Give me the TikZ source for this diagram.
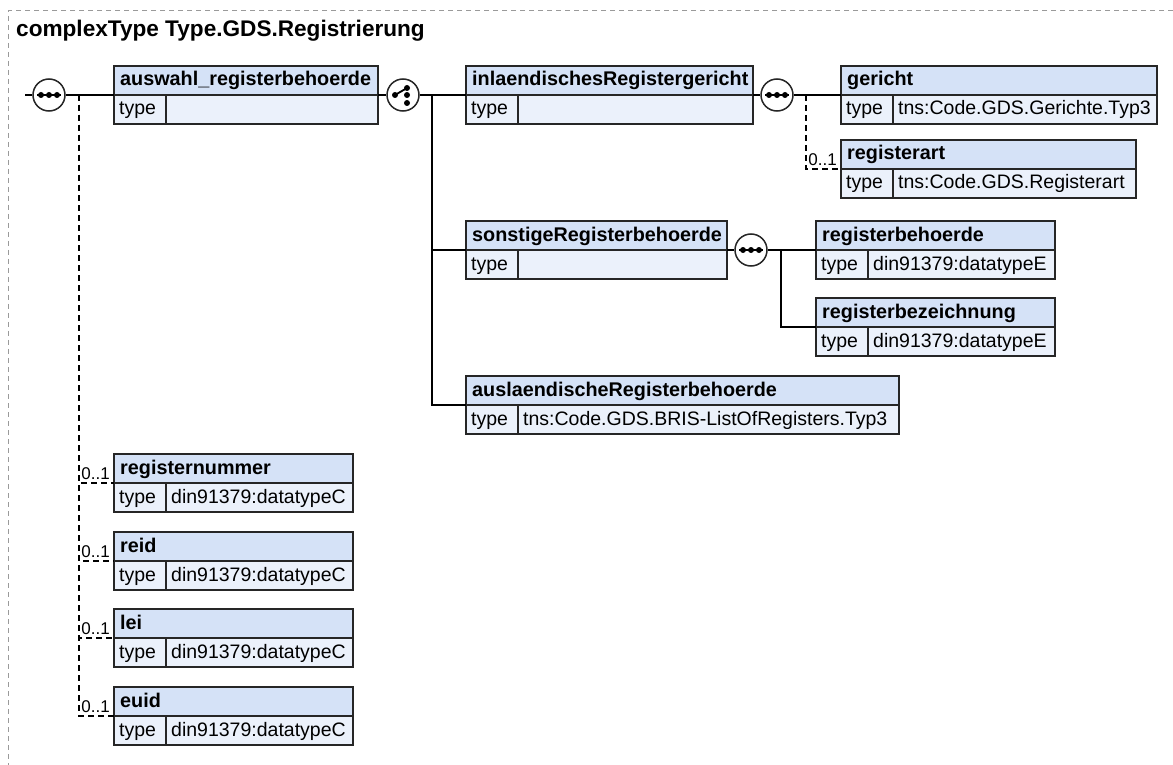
\documentclass[tikz,border=0pt]{standalone}
\usepackage{fontspec}
\setmainfont{Liberation Sans}
\usepackage{tikz}

\definecolor{hdrblue}{HTML}{D5E2F7}
\definecolor{rowblue}{HTML}{EBF1FB}
\definecolor{edge}{HTML}{262626}
\definecolor{framegray}{HTML}{9A9A9A}

\tikzset{
  hdrbox/.style={draw=edge, line width=1.5pt, fill=hdrblue, anchor=north west,
    minimum height=29pt, inner sep=0pt, outer sep=0pt},
  rowbox/.style={hdrbox, fill=rowblue},
  lbl/.style={anchor=base west, inner sep=0pt, font=\fontsize{19.5}{23}\selectfont},
  hdrlbl/.style={lbl, font=\fontsize{19.8}{23}\selectfont\bfseries},
  occur/.style={anchor=base east, inner sep=0pt, font=\fontsize{17}{20}\selectfont},
  compositor/.style={draw=edge, line width=1.5pt, fill=white, circle,
    minimum size=32pt, inner sep=0pt},
  conn/.style={line width=1.5pt, black},
  optconn/.style={conn, dash pattern=on 6pt off 4pt}
}

% element box: name, x, y (top), width, title, type value
\newcommand{\xsdelem}[6]{%
  \pgfmathsetmacro{\valw}{#4-52}
  \node [hdrbox, minimum width=#4pt] (#1) at (#2,#3) {};
  \node [rowbox, minimum width=52pt] (#1-key) at (#1.south west) {};
  \node [rowbox, minimum width=\valw pt] (#1-val) at (#1-key.north east) {};
  \node [hdrlbl] (#1-title) at ([shift={(6pt,-20pt)}]#1.north west) {#5};
  \node [lbl] (#1-ktext) at ([shift={(5pt,-20pt)}]#1-key.north west) {type};
  \node [lbl] (#1-vtext) at ([shift={(5pt,-20pt)}]#1-val.north west) {#6};
}
\newcommand{\seqicon}[1]{%
  \draw [line width=1.8pt] ([xshift=-12pt]#1.center) -- ([xshift=12pt]#1.center);
  \foreach \dx in {-8,0,8} \fill ([xshift=\dx pt]#1.center) circle (3pt);
}
\newcommand{\choiceicon}[1]{%
  \draw [line width=1.8pt] ([xshift=-8pt]#1.center) -- ([shift={(4pt,7pt)}]#1.center);
  \fill ([xshift=-8pt]#1.center) circle (3pt);
  \foreach \dy in {7,0,-8} \fill ([shift={(4pt,\dy pt)}]#1.center) circle (3pt);
}

\begin{document}
\begin{tikzpicture}[x=1pt, y=-1pt]
    \useasboundingbox (0,0) rectangle (1173,765);
    \draw [framegray, line width=1pt, dash pattern=on 5pt off 4pt] (1173,11) -- (8,11) -- (8,765);
    \node [anchor=base west, inner sep=0pt, font=\fontsize{22.6}{26}\selectfont\bfseries] (title) at (16,37)
      {complexType Type.GDS.Registrierung};

    \xsdelem{auswahl}{114}{66}{264}{auswahl\_registerbehoerde}{}
    \xsdelem{inland}{466}{66}{287}{inlaendischesRegistergericht}{}
    \xsdelem{gericht}{841}{66}{316}{gericht}{tns:Code.GDS.Gerichte.Typ3}
    \xsdelem{regart}{841}{140}{295}{registerart}{tns:Code.GDS.Registerart}
    \xsdelem{sonst}{466}{221}{261}{sonstigeRegisterbehoerde}{}
    \xsdelem{regbeh}{816}{221}{239}{registerbehoerde}{din91379:datatypeE}
    \xsdelem{regbez}{816}{298}{239}{registerbezeichnung}{din91379:datatypeE}
    \xsdelem{ausl}{466}{376}{433}{auslaendischeRegisterbehoerde}{tns:Code.GDS.BRIS-ListOfRegisters.Typ3}
    \xsdelem{regnr}{114}{454}{239}{registernummer}{din91379:datatypeC}
    \xsdelem{reid}{114}{532}{239}{reid}{din91379:datatypeC}
    \xsdelem{lei}{114}{609}{239}{lei}{din91379:datatypeC}
    \xsdelem{euid}{114}{687}{239}{euid}{din91379:datatypeC}

    \node [compositor] (seq1) at (49,95) {};
    \node [compositor] (choice) at (403,95) {};
    \node [compositor] (seq2) at (777,95) {};
    \node [compositor] (seq3) at (751,250) {};
    \seqicon{seq1}
    \choiceicon{choice}
    \seqicon{seq2}
    \seqicon{seq3}

    \coordinate (start) at (25,95);
    \coordinate (fork1) at (79,95);
    \coordinate (fork2) at (432,95);
    \coordinate (fork3) at (806,95);
    \coordinate (fork4) at (781,250);

    \draw [conn] (start) -- (seq1);
    \draw [conn] (seq1) -- (auswahl.south west);
    \draw [conn] (auswahl.south east) -- (choice);
    \draw [conn] (choice) -- (inland.south west);
    \draw [conn] (fork2) |- (sonst.south west);
    \draw [conn] (fork2) |- (ausl.south west);
    \draw [conn] (inland.south east) -- (seq2);
    \draw [conn] (seq2) -- (gericht.south west);
    \draw [conn] (sonst.south east) -- (seq3);
    \draw [conn] (seq3) -- (regbeh.south west);
    \draw [conn] (fork4) |- (regbez.south west);

    % optional children
    \draw [optconn] (fork3) |- (regart.south west);
    \foreach \e in {regnr, reid, lei, euid}
      \draw [optconn] (fork1) |- (\e.south west);
    \foreach \e in {regart, regnr, reid, lei, euid}
      \node [occur] (\e-occ) at ([shift={(-4pt,4pt)}]\e.south west) {0..1};
\end{tikzpicture}
\end{document}
